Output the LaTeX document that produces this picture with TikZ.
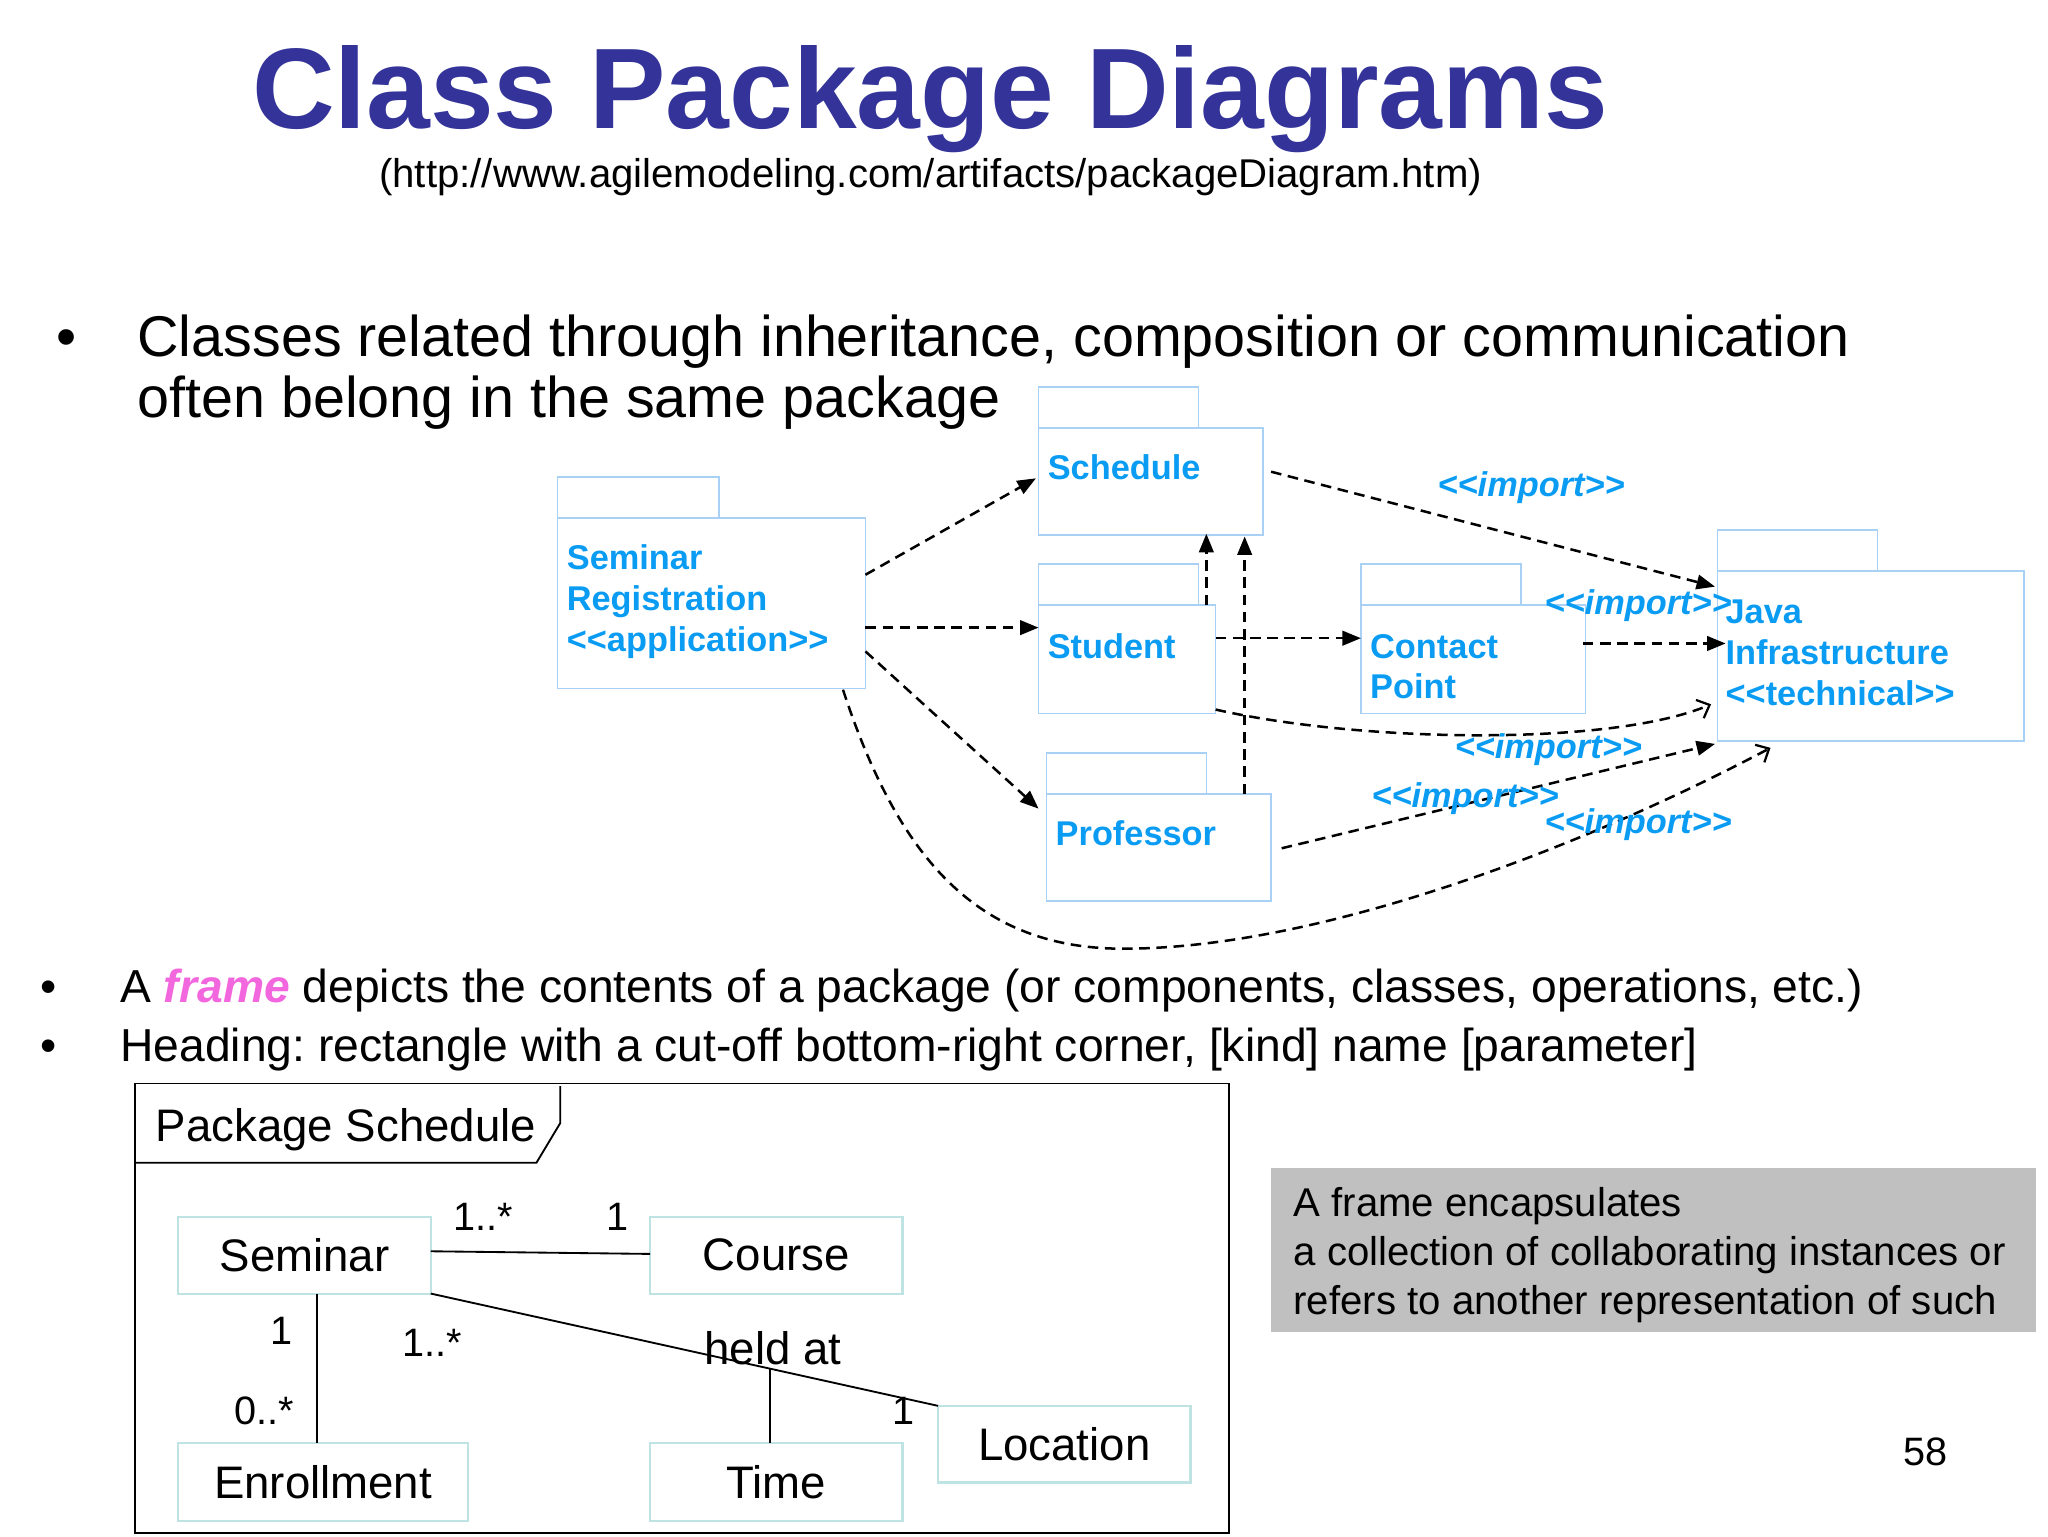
\documentclass[tikz,border=0pt]{standalone}
\usepackage{fontspec}
\setmainfont{Liberation Sans}
\usetikzlibrary{arrows.meta,calc}
\definecolor{titleblue}{HTML}{333399}
\definecolor{pkgblue}{HTML}{0A9BF2}
\definecolor{pkgline}{HTML}{A9D1F5}
\definecolor{clsline}{HTML}{BFE3E3}
\definecolor{framepink}{HTML}{F266DE}
\definecolor{notegrey}{HTML}{C0C0C0}
\frenchspacing
\begin{document}
\begin{tikzpicture}[x=1pt,y=-1pt,
  every node/.style={inner sep=0pt, outer sep=0pt},
  pkgbody/.style={draw=pkgline, line width=1.2pt, anchor=north west, rectangle},
  pkgtab/.style={draw=pkgline, line width=1.2pt},
  pkgtext/.style={anchor=base west, text=pkgblue, font=\fontsize{26}{31}\selectfont\bfseries},
  implabel/.style={anchor=base west, text=pkgblue, font=\fontsize{26}{31}\selectfont\bfseries\itshape},
  dep/.style={line width=1.9pt, dash pattern=on 8pt off 5pt, -{Triangle[length=14pt,width=11pt]}},
  imp/.style={line width=1.9pt, dash pattern=on 8pt off 5pt, -{Straight Barb[length=8pt,width=15pt,line width=1.7pt]}},
  cls/.style={draw=clsline, line width=1.6pt, anchor=north west, rectangle, font=\fontsize{34.5}{40}\selectfont},
  mult/.style={font=\fontsize{30}{36}\selectfont},
  assoc/.style={line width=1.4pt}]
\useasboundingbox (0,0) rectangle (1550,1162.5);

% Title
\node[anchor=base, text=titleblue, font=\fontsize{86.7}{100}\selectfont\bfseries] (title) at (704,97) {Class Package Diagrams};
\node[anchor=base west, font=\fontsize{30.4}{36}\selectfont] (url) at (287,142) {(http://www.agilemodeling.com/artifacts/packageDiagram.htm)};

% Bullet 1
\node[anchor=base west, font=\fontsize{43.5}{50}\selectfont] (b1) at (43,270) {•};
\node[anchor=base west, font=\fontsize{43.5}{50}\selectfont] (b1l1) at (104,270) {Classes related through inheritance, composition or communication};
\node[anchor=base west, font=\fontsize{43.5}{50}\selectfont] (b1l2) at (104,316) {often belong in the same package};

% Packages
\node[pkgbody, minimum width=233pt, minimum height=129pt] (sr) at (422,392) {};
\draw[pkgtab] (sr.north west) rectangle ++(122,-31);
\node[pkgtext] (srt1) at (429,431) {Seminar};
\node[pkgtext] (srt2) at (429,462) {Registration};
\node[pkgtext] (srt3) at (429,493) {<{}<application>{}>};

\node[pkgbody, minimum width=170pt, minimum height=81pt] (sch) at (786,324) {};
\draw[pkgtab] (sch.north west) rectangle ++(121,-31);
\node[pkgtext] (scht) at (793,363) {Schedule};

\node[pkgbody, minimum width=134pt, minimum height=82pt] (stu) at (786,458) {};
\draw[pkgtab] (stu.north west) rectangle ++(121,-31);
\node[pkgtext] (stut) at (793,498) {Student};

\node[pkgbody, minimum width=170pt, minimum height=81pt] (prof) at (792,601) {};
\draw[pkgtab] (prof.north west) rectangle ++(121,-31);
\node[pkgtext] (proft) at (799,640) {Professor};

\node[pkgbody, minimum width=170pt, minimum height=82pt] (cp) at (1030,458) {};
\draw[pkgtab] (cp.north west) rectangle ++(121,-31);
\node[pkgtext] (cpt1) at (1037,498) {Contact};
\node[pkgtext] (cpt2) at (1037,529) {Point};

\node[pkgbody, minimum width=232pt, minimum height=129pt] (java) at (1300,432) {};
\draw[pkgtab] (java.north west) rectangle ++(121,-31);
\node[pkgtext] (javat1) at (1306,472) {Java};
\node[pkgtext] (javat2) at (1306,503) {Infrastructure};
\node[pkgtext] (javat3) at (1306,534) {<{}<technical>{}>};

% Dependencies
\draw[dep] ($(sr.north east)+(0,43)$) -- ($(sch.north west)+(-2,38)$);
\draw[dep] ($(sr.north east)+(0,83)$) -- ($(stu.north west)+(0,17)$);
\draw[dep] ($(sr.north east)+(0,101)$) -- ($(prof.north west)+(-6,11)$);
\draw[dep] ($(sch.north east)+(6,33)$) -- ($(java.north west)+(-2,12)$);
\draw[dep] ($(stu.north west)+(127,0)$) -- ($(sch.south west)+(127,-1)$);
\draw[dep] ($(prof.north west)+(150,0)$) -- ($(sch.south west)+(156,1)$);
\draw[dep] ($(stu.north east)+(0,25)$) -- ($(cp.north west)+(0,25)$);
\draw[dep] ($(cp.north east)+(-2,29)$) -- ($(java.north west)+(6,55)$);
\draw[imp] ($(stu.south east)+(0,-3)$) .. controls (1030,562) and (1220,565) .. ($(java.north west)+(-5,101)$);
\draw[dep] ($(prof.north east)+(8,41)$) -- ($(java.south west)+(-2,2)$);
\draw[imp] ($(sr.south east)+(-17,1)$) .. controls (680,650) and (740,718) .. (850,718) .. controls (1000,718) and (1200,640) .. ($(java.south west)+(40,5)$);

% import labels
\node[implabel] (il1) at (1088,376) {<{}<import>{}>};
\node[implabel] (il2) at (1169,465) {<{}<import>{}>};
\node[implabel] (il3) at (1101,574) {<{}<import>{}>};
\node[implabel] (il4) at (1038,611) {<{}<import>{}>};
\node[implabel] (il5) at (1169,631) {<{}<import>{}>};

% Bullets 2, 3
\node[anchor=base west, font=\fontsize{35}{42}\selectfont] (b2) at (31,759) {•};
\node[anchor=base west, font=\fontsize{35}{42}\selectfont] (b2t) at (91,759) {A \textcolor{framepink}{\bfseries\itshape frame} depicts the contents of a package (or components, classes, operations, etc.)};
\node[anchor=base west, font=\fontsize{35}{42}\selectfont] (b3) at (31,803) {•};
\node[anchor=base west, font=\fontsize{35}{42}\selectfont] (b3t) at (91,803) {Heading: rectangle with a cut-off bottom-right corner, [kind] name [parameter]};

% Frame
\node[draw=black, line width=1.4pt, anchor=north west, minimum width=828pt, minimum height=340pt] (frame) at (102,820) {};
\draw[line width=1.4pt] ($(frame.north west)+(322,2)$) -- ++(0,28) -- ++(-18,30) -- ($(frame.north west)+(0,60)$);
\node[anchor=base west, font=\fontsize{34.5}{40}\selectfont] (frt) at (118,864) {Package Schedule};

% Classes
\node[cls, minimum width=191pt, minimum height=58pt] (sem) at (135,921) {Seminar};
\node[cls, minimum width=191pt, minimum height=58pt] (course) at (492,921) {Course};
\node[cls, minimum width=219pt, minimum height=59pt] (enr) at (135,1092) {Enrollment};
\node[cls, minimum width=191pt, minimum height=59pt] (time) at (492,1092) {Time};
\node[cls, minimum width=191pt, minimum height=58pt] (loc) at (710,1064) {Location};

\draw[assoc] ($(sem.north east)+(0,26)$) -- ($(course.north west)+(0,28)$);
\draw[assoc] ($(sem.south west)+(105,0)$) -- ($(enr.north west)+(105,0)$);
\draw[assoc] (sem.south east) -- (loc.north west);
\coordinate (held) at ($(sem.south east)!0.669!(loc.north west)$);
\draw[assoc] (held) -- (held |- time.north);

\node[mult] (m1) at (366,921) {1..*};
\node[mult] (m2) at (467,921) {1};
\node[mult] (m3) at (213,1007) {1};
\node[mult] (m4) at (200,1068) {0..*};
\node[mult] (m5) at (327,1016) {1..*};
\node[mult] (m6) at (684,1068) {1};
\node[font=\fontsize{34.5}{40}\selectfont] (heldat) at (585,1020) {held at};

% Note
\node[fill=notegrey, anchor=north west, minimum width=579pt, minimum height=124pt] (note) at (962,884) {};
\node[anchor=base west, font=\fontsize{30.4}{36}\selectfont] (n1) at (979,921) {A frame encapsulates};
\node[anchor=base west, font=\fontsize{30.4}{36}\selectfont] (n2) at (979,958) {a collection of collaborating instances or};
\node[anchor=base west, font=\fontsize{30.4}{36}\selectfont] (n3) at (979,995) {refers to another representation of such};

\node[anchor=base, font=\fontsize{30}{36}\selectfont] (pg) at (1457,1109) {58};
\end{tikzpicture}
\end{document}
